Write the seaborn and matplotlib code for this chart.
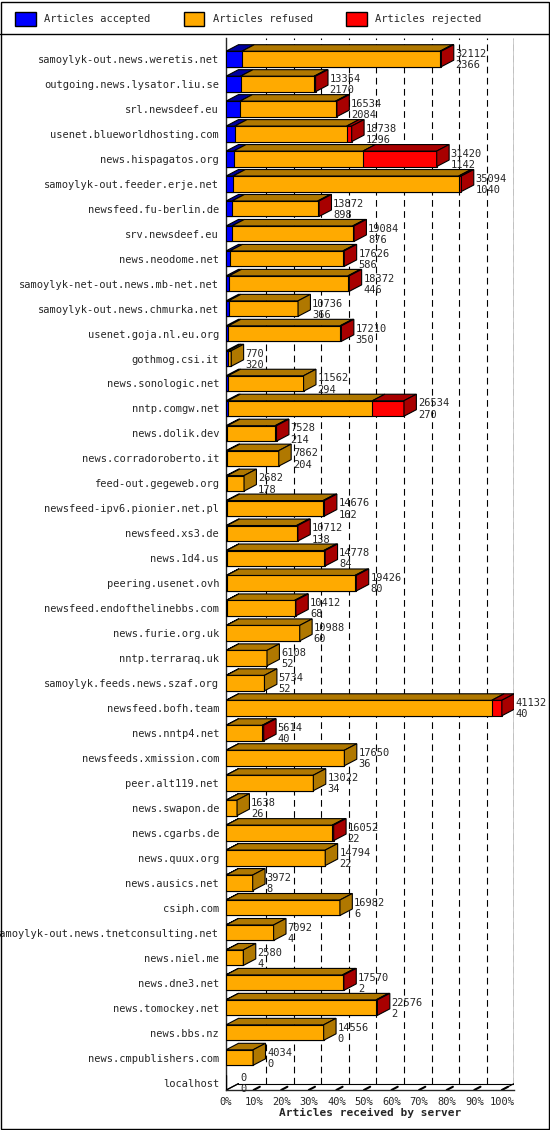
import numpy as np
import pandas as pd
import matplotlib
matplotlib.use("Agg")
import matplotlib.pyplot as plt
from matplotlib.patches import Polygon, Patch
import seaborn as sns

servers = [
    "samoylyk-out.news.weretis.net", "outgoing.news.lysator.liu.se", "srl.newsdeef.eu",
    "usenet.blueworldhosting.com", "news.hispagatos.org", "samoylyk-out.feeder.erje.net",
    "newsfeed.fu-berlin.de", "srv.newsdeef.eu", "news.neodome.net", "samoylyk-net-out.news.mb-net.net",
    "samoylyk-out.news.chmurka.net", "usenet.goja.nl.eu.org", "gothmog.csi.it", "news.sonologic.net",
    "nntp.comgw.net", "news.dolik.dev", "news.corradoroberto.it", "feed-out.gegeweb.org",
    "newsfeed-ipv6.pionier.net.pl", "newsfeed.xs3.de", "news.1d4.us", "peering.usenet.ovh",
    "newsfeed.endofthelinebbs.com", "news.furie.org.uk", "nntp.terraraq.uk", "samoylyk.feeds.news.szaf.org",
    "newsfeed.bofh.team", "news.nntp4.net", "newsfeeds.xmission.com", "peer.alt119.net",
    "news.swapon.de", "news.cgarbs.de", "news.quux.org", "news.ausics.net", "csiph.com",
    "samoylyk-out.news.tnetconsulting.net", "news.niel.me", "news.dne3.net", "news.tomockey.net",
    "news.bbs.nz", "news.cmpublishers.com", "localhost",
]
total = [32112, 13354, 16534, 18738, 31420, 35094, 13872, 19084, 17626, 18372,
         10736, 17210, 770, 11562, 26534, 7528, 7862, 2682, 14676, 10712, 14778, 19426,
         10412, 10988, 6108, 5734, 41132, 5614, 17650, 13022, 1638, 16052, 14794, 3972,
         16982, 7092, 2580, 17570, 22576, 14556, 4034, 0]
accepted = [2366, 2170, 2084, 1296, 1142, 1040, 898, 876, 586, 446, 366, 350, 320, 294,
            270, 214, 204, 178, 162, 138, 84, 80, 68, 60, 52, 52, 40, 40, 36, 34, 26, 22,
            22, 8, 6, 4, 4, 2, 2, 0, 0, 0]
rejected = [200, 200, 200, 750, 11000, 400, 200, 200, 200, 200, 0, 200, 0, 0, 4700, 200,
            0, 0, 200, 200, 200, 200, 200, 0, 0, 0, 1500, 200, 0, 0, 0, 200, 0, 0, 0, 0,
            0, 200, 200, 0, 0, 0]

front = {"acc": "#0000ff", "ref": "#ffaa00", "rej": "#ff0000"}
dark = {"acc": "#0000a0", "ref": "#b07800", "rej": "#a80000"}

tot = np.array(total, float)
acc = np.array(accepted, float)
rej = np.array(rejected, float)
scale = 100.0 / tot.max()
df = pd.DataFrame({"server": servers,
                   "acc": acc * scale,
                   "accref": (tot - rej) * scale,
                   "all": tot * scale})

sns.set_style("white")
plt.rcParams["font.family"] = ["DejaVu Sans Mono", "DejaVu Sans"]

fig = plt.figure(figsize=(5.5, 11.3), dpi=100)
ax = fig.add_axes([0.411, 0.0354, 0.524, 0.931])

H = 0.62
DX, DY = 4.5, 0.26
n = len(servers)

sns.barplot(data=df, y="server", x="all", color=front["rej"], width=H, saturation=1,
            edgecolor="black", linewidth=0.8, ax=ax, zorder=3)
sns.barplot(data=df, y="server", x="accref", color=front["ref"], width=H, saturation=1,
            edgecolor="black", linewidth=0.8, ax=ax, zorder=4)
sns.barplot(data=df, y="server", x="acc", color=front["acc"], width=H, saturation=1,
            edgecolor="black", linewidth=0.8, ax=ax, zorder=5)

# 3D top and side faces
for i in range(n):
    segs = [("acc", 0, df["acc"][i]), ("ref", df["acc"][i], df["accref"][i]),
            ("rej", df["accref"][i], df["all"][i])]
    yt = i - H / 2
    yb = i + H / 2
    last = None
    for key, x0, x1 in segs:
        if x1 - x0 <= 0:
            continue
        last = key
        ax.add_patch(Polygon([(x0, yt), (x1, yt), (x1 + DX, yt - DY), (x0 + DX, yt - DY)],
                             closed=True, fc=dark[key], ec="black", lw=0.8, zorder=6))
    xe = df["all"][i]
    if last is not None:
        ax.add_patch(Polygon([(xe, yt), (xe + DX, yt - DY), (xe + DX, yb - DY), (xe, yb)],
                             closed=True, fc=dark[last], ec="black", lw=0.8, zorder=6))
    else:
        ax.plot([0, DX], [yb, yb - DY], color="black", lw=0.8, zorder=6)
    ax.text(xe + DX + 0.6, i - 0.2, str(total[i]), fontsize=7.5, va="center", ha="left",
            clip_on=False, zorder=7)
    ax.text(xe + DX + 0.6, i + 0.25, str(accepted[i]), fontsize=7.5, va="center", ha="left",
            clip_on=False, zorder=7)

ytop = -0.84
ybot = n - 1 + 0.3
ax.set_ylim(ybot, ytop)
ax.set_xlim(0, 100 + DX)

# back wall grid
for p in range(10, 101, 10):
    ax.plot([p + DX, p + DX], [ybot - DY, ytop], color="black", lw=0.8,
            ls=(0, (6, 4)), zorder=1)
    ax.plot([p, p + DX * 0.5], [ybot, ybot - DY * 0.5], color="black", lw=1.5, zorder=2)
ax.plot([100 + DX, 100 + DX], [ybot - DY, ytop], color="black", lw=1, zorder=1)
ax.plot([0, DX], [ybot, ybot - DY], color="black", lw=0.8, zorder=1)
ax.plot([DX, 100 + DX], [ybot - DY, ybot - DY], color="black", lw=0.8, zorder=1)
ax.plot([100, 100 + DX], [ybot, ybot - DY], color="black", lw=0.8, zorder=1)

for s in ["top", "right"]:
    ax.spines[s].set_visible(False)
ax.spines["left"].set_linewidth(1)
ax.spines["bottom"].set_linewidth(1)

ax.set_xticks(range(0, 101, 10))
ax.set_xticklabels([f"{p}%" for p in range(0, 101, 10)], fontsize=7.5)
ax.tick_params(axis="both", length=3, width=0.8, direction="out", pad=2)
ax.tick_params(axis="y", labelsize=7.5)
ax.set_ylabel("")
ax.set_xlabel("Articles received by server", fontsize=8, fontweight="bold", labelpad=1)

handles = [Patch(fc=front[k], ec="black") for k in ["acc", "ref", "rej"]]
fig.legend(handles, ["Articles accepted", "Articles refused", "Articles rejected"],
           loc="upper left", bbox_to_anchor=(0.01, 0.998), ncol=3, frameon=False,
           fontsize=7.5, handlelength=2.0, handleheight=1.8, columnspacing=3.2)

# outer border and legend separator
fig.add_artist(plt.Rectangle((0.001, 0.001), 0.997, 0.997, transform=fig.transFigure,
                             fill=False, ec="black", lw=1))
fig.add_artist(plt.Line2D([0, 1], [1 - 34 / 1130] * 2, transform=fig.transFigure,
                          color="black", lw=1))

fig.savefig("out.png", dpi=100)
